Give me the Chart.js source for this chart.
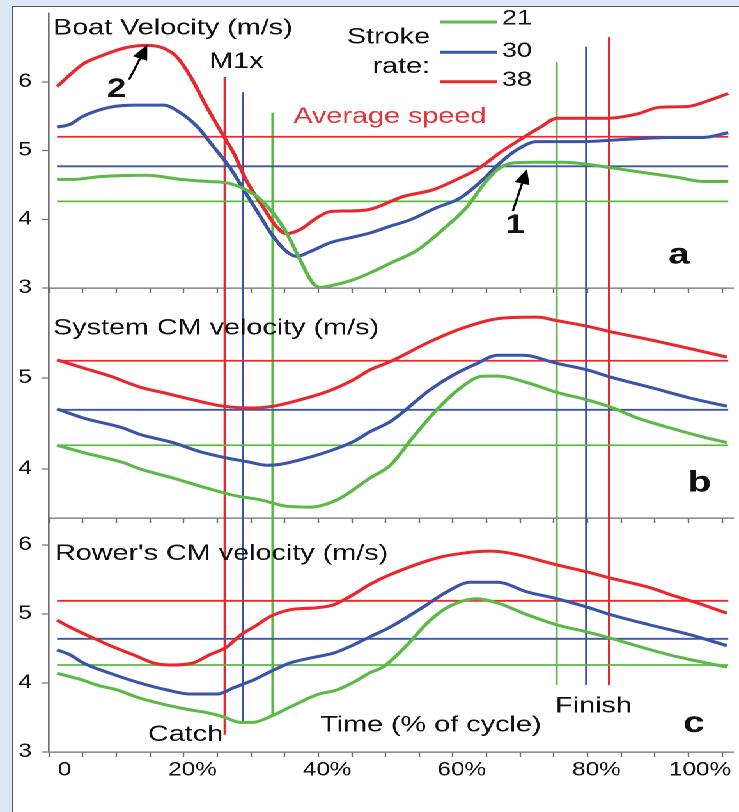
<!DOCTYPE html>
<html>
<head>
<meta charset="utf-8">
<title>Boat, system and rower velocity over the stroke cycle</title>
<script src="https://cdn.jsdelivr.net/npm/chart.js@4.4.0/dist/chart.umd.min.js"></script>
<style>
  html, body { margin: 0; padding: 0; }
  body { width: 739px; height: 812px; background: #dde7f3; position: relative; overflow: hidden; }
  .sheet { position: absolute; left: 12px; top: 6px; right: 0; bottom: 0; background: #fff;
           border-left: 1.5px solid #555; border-top: 1.5px solid #555; }
  /* the figure is drawn narrow and stretched sideways, like the printed original */
  .fig { position: absolute; left: 0; top: 0; width: 578px; height: 812px;
         transform: scaleX(1.2785); transform-origin: 0 0; }
  .fig canvas { position: absolute; left: 0; }
</style>
</head>
<body>
<div class="sheet"></div>
<div class="fig">
  <canvas id="boatChart" width="578" height="300" style="top:0"></canvas>
  <canvas id="systemChart" width="578" height="250" style="top:280px"></canvas>
  <canvas id="rowerChart" width="578" height="302" style="top:510px"></canvas>
</div>
<script>
// Stroke rates (strokes/min), in drawing order
const rates = ['21', '30', '38'];

// Time axis, % of stroke cycle
const xTicks = [0, 5, 10, 15, 20, 25, 30, 35, 40, 45, 50, 55, 60, 65, 70, 75, 80, 85, 90, 95, 100];
const xLabels = ['0', '', '', '', '20%', '', '', '', '40%', '', '', '', '60%', '', '', '', '80%', '', '', '', '100%'];

// a: boat velocity (m/s), [time %, velocity]
const boat21 = [[1.2,4.58],[3.6,4.58],[7.6,4.62],[14.5,4.64],[19.5,4.58],[23.4,4.55],[26.4,4.53],[28.8,4.45],
  [30.9,4.33],[33.3,4.09],[35.3,3.80],[37.3,3.41],[39.2,3.07],[40.3,3.01],[42.2,3.04],[45.2,3.12],[47.7,3.22],
  [50.7,3.36],[54.7,3.55],[58.5,3.85],[62.1,4.18],[64.5,4.50],[66.6,4.72],[69.0,4.82],[72.5,4.83],[76.4,4.83],
  [79.9,4.80],[83.4,4.75],[88.3,4.68],[93.3,4.61],[97.2,4.55],[100.9,4.55]];
const boat30 = [[1.2,5.34],[3.1,5.38],[5.1,5.50],[9.1,5.63],[13.1,5.66],[17.0,5.66],[19.5,5.55],[22.0,5.35],
  [24.4,5.06],[26.9,4.75],[28.8,4.45],[31.4,4.04],[33.3,3.75],[35.3,3.53],[36.8,3.46],[38.8,3.53],[41.8,3.66],
  [44.7,3.73],[47.7,3.80],[50.7,3.90],[53.6,3.99],[57.6,4.17],[61.1,4.31],[64.5,4.58],[67.0,4.82],[69.5,5.01],
  [72.5,5.13],[75.5,5.13],[79.4,5.13],[85.3,5.16],[92.3,5.19],[97.2,5.19],[100.9,5.26]];
const boat38 = [[1.2,5.93],[5.1,6.26],[7.6,6.37],[11.6,6.50],[14.5,6.53],[17.0,6.49],[19.0,6.36],[21.0,6.08],
  [23.4,5.64],[26.0,5.20],[27.4,4.97],[29.4,4.55],[31.8,4.18],[33.8,3.89],[35.3,3.79],[37.3,3.85],[39.8,4.02],
  [41.7,4.11],[44.2,4.12],[47.5,4.14],[52.6,4.33],[57.1,4.43],[60.6,4.58],[64.0,4.75],[67.0,4.97],[70.0,5.16],
  [73.0,5.34],[75.5,5.47],[79.4,5.47],[83.1,5.47],[87.3,5.53],[90.8,5.63],[94.8,5.64],[97.8,5.72],[100.9,5.83]];

// b: system centre-of-mass velocity (m/s)
const system21 = [[1.2,4.26],[5.1,4.18],[11.0,4.07],[13.5,4.00],[18.4,3.90],[23.4,3.79],[27.4,3.71],[31.4,3.66],
  [35.3,3.59],[38.8,3.58],[42.8,3.66],[47.7,3.90],[50.7,4.04],[54.1,4.35],[57.6,4.65],[61.1,4.89],[64.5,5.02],
  [66.6,5.02],[71.0,4.95],[75.5,4.84],[79.9,4.76],[83.8,4.67],[87.4,4.56],[92.3,4.45],[97.2,4.35],[100.7,4.29]];
const system30 = [[1.2,4.66],[5.1,4.56],[11.0,4.45],[13.5,4.38],[18.4,4.29],[22.4,4.19],[26.4,4.12],[29.4,4.08],
  [32.4,4.04],[34.3,4.05],[38.3,4.12],[42.2,4.21],[45.2,4.30],[47.7,4.41],[50.7,4.52],[56.6,4.87],[60.0,5.03],
  [63.6,5.16],[66.6,5.25],[70.4,5.25],[75.5,5.16],[79.9,5.09],[83.4,5.01],[89.7,4.89],[95.2,4.78],[100.7,4.69]];
const system38 = [[1.2,5.20],[5.1,5.11],[9.1,5.02],[13.5,4.90],[17.5,4.83],[21.4,4.76],[25.9,4.69],[30.3,4.67],
  [33.3,4.69],[37.3,4.76],[41.3,4.85],[45.2,4.98],[47.7,5.09],[50.7,5.18],[56.6,5.40],[61.5,5.55],[67.5,5.66],
  [72.5,5.67],[75.5,5.63],[79.9,5.57],[83.4,5.51],[89.3,5.42],[97.2,5.29],[100.7,5.23]];

// c: rower's centre-of-mass velocity (m/s)
const rower21 = [[1.2,4.14],[5.1,4.04],[7.1,3.97],[10.1,3.90],[13.5,3.78],[17.5,3.68],[21.0,3.61],[23.5,3.57],
  [25.9,3.51],[28.4,3.43],[30.3,3.43],[32.8,3.51],[35.8,3.65],[39.8,3.83],[42.8,3.90],[45.8,4.04],[47.7,4.15],
  [49.6,4.23],[53.2,4.55],[56.2,4.87],[59.1,5.09],[63.6,5.22],[66.6,5.16],[71.0,4.99],[75.5,4.84],[79.9,4.74],
  [83.4,4.65],[88.3,4.51],[93.3,4.38],[100.7,4.23]];
const rower30 = [[1.2,4.48],[3.1,4.41],[5.1,4.29],[9.1,4.14],[13.5,4.00],[17.5,3.90],[21.0,3.84],[25.0,3.84],
  [27.4,3.93],[30.3,4.04],[32.8,4.16],[35.8,4.29],[39.8,4.38],[42.2,4.43],[45.2,4.55],[47.7,4.67],[50.7,4.81],
  [55.6,5.10],[59.1,5.32],[62.6,5.46],[66.6,5.46],[71.0,5.32],[75.5,5.22],[79.9,5.10],[83.4,4.99],[89.3,4.84],
  [95.2,4.70],[100.7,4.54]];
const rower38 = [[1.2,4.91],[3.1,4.81],[6.6,4.65],[9.6,4.52],[12.5,4.41],[15.5,4.29],[18.0,4.26],[21.4,4.29],
  [23.9,4.41],[26.4,4.52],[28.4,4.69],[30.9,4.84],[32.8,4.96],[35.8,5.06],[39.8,5.09],[42.2,5.13],[45.2,5.28],
  [47.7,5.43],[50.7,5.57],[57.6,5.81],[61.5,5.88],[65.5,5.91],[68.5,5.88],[75.5,5.71],[79.9,5.61],[83.4,5.52],
  [89.3,5.38],[92.3,5.28],[97.2,5.13],[100.7,5.01]];

// Average speeds per rate (m/s), drawn across the cycle
const avgSpan = [1.2, 100.9];
const boatAvg = [4.26, 4.77, 5.20];
const systemAvg = [4.26, 4.65, 5.19];
const rowerAvg = [4.26, 4.64, 5.19];

// Catch and finish instants (% of cycle) per rate
const catchTime = [33.2, 28.8, 26.1];
const finishTime = [75.4, 79.8, 83.2];
// where the catch/finish markers start (top panel, m/s) and stop (bottom panel, m/s)
const catchTop = [5.55, 5.85, 6.07];
const finishTop = [6.29, 6.51, 6.65];
const catchBottom = [3.51, 3.43, 3.25];
const finishBottom = [3.97, 3.97, 3.97];

const rateColors = ['#5cb947', '#3a55a7', '#e8282c'];
const axisGrey = '#6d6d6d';
const FONT = '"Liberation Sans", Arial, Helvetica, sans-serif';

// Text labels and arrows, placed in data units of their panel
function notesPlugin(notes) {
  return {
    id: 'notes',
    afterDatasetsDraw(chart) {
      const { ctx, scales: { x, y } } = chart;
      ctx.save();
      notes.forEach(n => {
        const px = x.getPixelForValue(n.x);
        const py = y.getPixelForValue(n.y);
        if (n.arrowTo) {
          const tx = x.getPixelForValue(n.arrowTo[0]);
          const ty = y.getPixelForValue(n.arrowTo[1]);
          const ang = Math.atan2(ty - py, tx - px);
          const head = 15, half = 6;
          const bx = tx - head * Math.cos(ang), by = ty - head * Math.sin(ang);
          ctx.strokeStyle = '#000';
          ctx.lineWidth = 1.8;
          ctx.beginPath();
          ctx.moveTo(px, py);
          ctx.lineTo(bx, by);
          ctx.stroke();
          ctx.fillStyle = '#000';
          ctx.beginPath();
          ctx.moveTo(tx, ty);
          ctx.lineTo(bx + half * Math.sin(ang), by - half * Math.cos(ang));
          ctx.lineTo(bx - half * Math.sin(ang), by + half * Math.cos(ang));
          ctx.closePath();
          ctx.fill();
        } else if (n.keyTo) {
          ctx.strokeStyle = n.color;
          ctx.lineWidth = 3;
          ctx.beginPath();
          ctx.moveTo(px, py);
          ctx.lineTo(x.getPixelForValue(n.keyTo), py);
          ctx.stroke();
        } else {
          ctx.font = n.font || `22.5px ${FONT}`;
          ctx.fillStyle = n.color || '#111';
          ctx.textAlign = n.align || 'left';
          ctx.textBaseline = 'alphabetic';
          ctx.fillText(n.text, px, py);
        }
      });
      ctx.restore();
    }
  };
}

function line(points, color, width, order) {
  return {
    data: points.map(p => ({ x: p[0], y: p[1] })),
    borderColor: color,
    borderWidth: width,
    pointRadius: 0,
    fill: false,
    order: order
  };
}

function makePanel(id, p) {
  const datasets = [];
  // catch / finish markers
  rates.forEach((r, i) => {
    datasets.push(line([[catchTime[i], p.catchFrom[i]], [catchTime[i], p.catchTo[i]]], rateColors[i], 1.8, 2));
    datasets.push(line([[finishTime[i], p.finishFrom[i]], [finishTime[i], p.finishTo[i]]], rateColors[i], 1.8, 2));
  });
  // average speed lines
  p.avg.forEach((v, i) => {
    datasets.push(line([[avgSpan[0], v], [avgSpan[1], v]], rateColors[i], 1.8, 1));
  });
  // velocity curves
  p.curves.forEach((c, i) => {
    const ds = line(c, rateColors[i], 3, 0);
    ds.cubicInterpolationMode = 'monotone';
    ds.label = rates[i];
    datasets.push(ds);
  });

  return new Chart(document.getElementById(id), {
    type: 'line',
    data: { datasets },
    options: {
      responsive: false,
      animation: false,
      devicePixelRatio: 2,
      events: [],
      layout: { padding: { left: 0, top: p.top, right: 4.7, bottom: 0 } },
      plugins: { legend: { display: false }, tooltip: { enabled: false } },
      scales: {
        x: {
          type: 'linear',
          min: 0,
          max: 101.6,
          afterBuildTicks: s => { s.ticks = xTicks.map(v => ({ value: v })); },
          afterFit: s => { s.height = p.xHeight; s.paddingLeft = 0; s.paddingRight = 0; },
          grid: { drawOnChartArea: false, drawTicks: true, tickLength: 5, color: axisGrey, tickWidth: 1.2 },
          border: { display: true, color: axisGrey, width: 1.3 },
          ticks: {
            display: p.xLabels,
            autoSkip: false,
            maxRotation: 0,
            align: 'inner',
            labelOffset: 7,
            padding: 2,
            color: '#111',
            font: { family: FONT, size: 19 },
            callback: (v, i) => xLabels[i]
          }
        },
        y: {
          type: 'linear',
          min: p.yMin,
          max: p.yMax,
          afterBuildTicks: s => { s.ticks = p.yTicks.map(v => ({ value: v })); },
          afterFit: s => { s.width = 38.3; s.paddingTop = 0; s.paddingBottom = 0; },
          grid: { drawOnChartArea: false, drawTicks: true, tickLength: 5.5, color: axisGrey, tickWidth: 1.2 },
          border: { display: true, color: axisGrey, width: 1.3 },
          ticks: {
            padding: 7.8,
            color: '#111',
            font: { family: FONT, size: 19 },
            callback: v => String(v)
          }
        }
      }
    },
    plugins: [notesPlugin(p.notes)]
  });
}

// a: boat velocity
makePanel('boatChart', {
  top: 13, xHeight: 12, xLabels: false,
  yMin: 3, yMax: 7, yTicks: [3, 4, 5, 6],
  curves: [boat21, boat30, boat38],
  avg: boatAvg,
  catchFrom: catchTop, catchTo: [2, 2, 2],
  finishFrom: finishTop, finishTo: [2, 2, 2],
  notes: [
    { x: 0.6, y: 6.69, text: 'Boat Velocity (m/s)' },
    { x: 23.8, y: 6.20, text: 'M1x' },
    { x: 56.6, y: 6.56, text: 'Stroke', align: 'right' },
    { x: 56.6, y: 6.13, text: 'rate:', align: 'right' },
    { x: 58.1, y: 6.87, keyTo: 66.6, color: rateColors[0] },
    { x: 58.1, y: 6.43, keyTo: 66.6, color: rateColors[1] },
    { x: 58.1, y: 6.00, keyTo: 66.6, color: rateColors[2] },
    { x: 67.3, y: 6.83, text: rates[0], font: `21px ${FONT}` },
    { x: 67.3, y: 6.36, text: rates[1], font: `21px ${FONT}` },
    { x: 67.3, y: 5.94, text: rates[2], font: `21px ${FONT}` },
    { x: 36.3, y: 5.40, text: 'Average speed', color: '#e3363b' },
    { x: 8.6, y: 5.78, text: '2', font: `bold 27px ${FONT}` },
    { x: 11.9, y: 6.03, arrowTo: [14.6, 6.54] },
    { x: 67.8, y: 3.80, text: '1', font: `bold 27px ${FONT}` },
    { x: 68.9, y: 4.12, arrowTo: [71.0, 4.73] },
    { x: 92.0, y: 3.36, text: 'a', font: `bold 30px ${FONT}` }
  ]
});

// b: system centre-of-mass velocity
makePanel('systemChart', {
  top: 8, xHeight: 12, xLabels: false,
  yMin: 3.46, yMax: 5.99, yTicks: [4, 5],
  curves: [system21, system30, system38],
  avg: systemAvg,
  catchFrom: [7, 7, 7], catchTo: [2, 2, 2],
  finishFrom: [7, 7, 7], finishTo: [2, 2, 2],
  notes: [
    { x: 0.6, y: 5.48, text: 'System CM velocity (m/s)' },
    { x: 94.9, y: 3.75, text: 'b', font: `bold 30px ${FONT}` }
  ]
});

// c: rower's centre-of-mass velocity
makePanel('rowerChart', {
  top: 8, xHeight: 60, xLabels: true,
  yMin: 3, yMax: 6.39, yTicks: [3, 4, 5, 6],
  curves: [rower21, rower30, rower38],
  avg: rowerAvg,
  catchFrom: [7, 7, 7], catchTo: catchBottom,
  finishFrom: [7, 7, 7], finishTo: finishBottom,
  notes: [
    { x: 0.9, y: 5.78, text: "Rower's CM velocity (m/s)" },
    { x: 14.7, y: 3.16, text: 'Catch' },
    { x: 40.3, y: 3.30, text: 'Time (% of cycle)' },
    { x: 75.2, y: 3.57, text: 'Finish' },
    { x: 94.2, y: 3.29, text: 'c', font: `bold 30px ${FONT}` }
  ]
});
</script>
</body>
</html>
